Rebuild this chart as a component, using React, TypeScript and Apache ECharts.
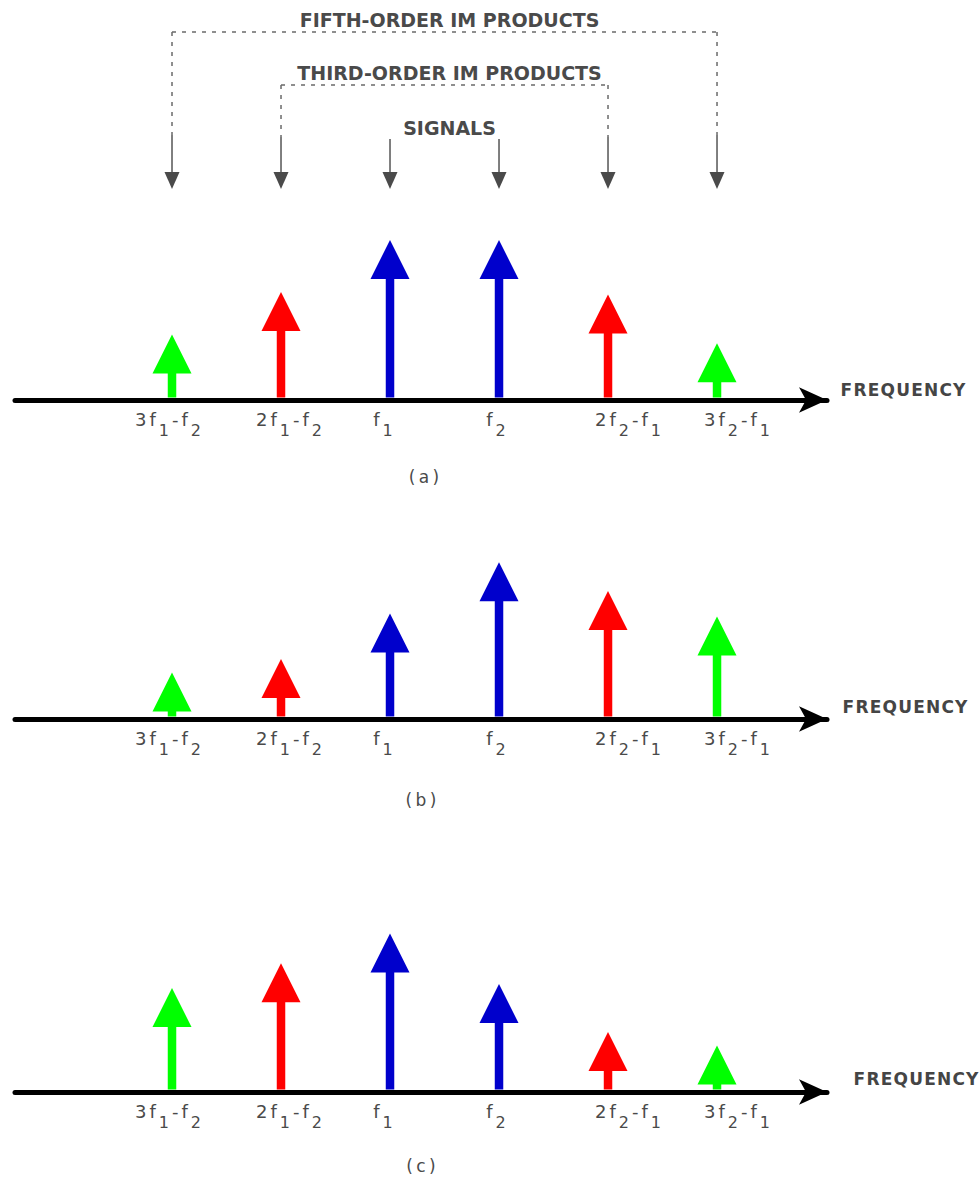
import { useEffect, useRef } from 'react';
import * as echarts from 'echarts';

// Spectral lines along the frequency axis ("_" marks a subscript character)
const PRODUCT_LABELS = ['3f_1-f_2', '2f_1-f_2', 'f_1', 'f_2', '2f_2-f_1', '3f_2-f_1'];
// Intermodulation order of each line: 1 = signal, 3 = third order, 5 = fifth order
const PRODUCT_ORDER = [5, 3, 1, 1, 3, 5];

// Relative amplitudes of the lines in each case
const AMPLITUDE_A = [4.1, 6.75, 10, 10, 6.6, 3.55];
const AMPLITUDE_B = [2.9, 3.75, 6.6, 9.8, 8.0, 6.4];
const AMPLITUDE_C = [6.5, 8.05, 9.9, 6.75, 3.75, 2.9];

const PANEL_CAPTIONS = ['(a)', '(b)', '(c)'];
const AXIS_NAME = 'FREQUENCY';

// Bracket annotations above the first spectrum
const BRACKET_LABELS = ['FIFTH-ORDER IM PRODUCTS', 'THIRD-ORDER IM PRODUCTS', 'SIGNALS'];
const BRACKET_FROM = [0, 1, 2];
const BRACKET_TO = [5, 4, 3];

// ---- styling / layout ----
const ORDER_COLORS: Record<number, string> = { 1: '#0000CC', 3: '#FF0000', 5: '#00FF00' };
const INK = '#4a4a4a';
const FONT = '"DejaVu Sans", sans-serif';

const PANEL_BASELINES = [400, 719, 1092];
const PLOT_HEIGHT = 160;
const GRID_LEFT = 15;
const GRID_RIGHT = 153;
const X_MIN = -1.4404;
const X_MAX = 6.009;

const SHAFT_W = 8.5;
const HEAD_W = 39;
const HEAD_H = 39;

const LABEL_NUDGE = [-4, 8, -7, -3, 20, 20];
const NAME_GAP = [13, 15, 26];
const NAME_LIFT = [10, 12, 13];
const CAPTION_POS = [
  [424, 477],
  [421, 800],
  [421, 1166],
];

const BRACKET_TEXT_Y = [20, 73, 128];
const BRACKET_RULE_Y: (number | null)[] = [32, 85, null];
const BRACKET_SOLID_Y = [135, 137, 139];
const POINTER_TOP = 172;
const POINTER_TIP = 189;

function richLabel(label: string, idx: number): string {
  let out = '';
  for (let i = 0; i < label.length; i++) {
    if (label[i] === '_') {
      out += `{s|${label[i + 1]}}`;
      i++;
    } else {
      out += `{m|${label[i]}}`;
    }
  }
  const n = LABEL_NUDGE[idx];
  if (n > 0) out = `{g${n * 2}| }` + out;
  if (n < 0) out = out + `{g${-n * 2}| }`;
  return out;
}

function labelRich() {
  const rich: Record<string, any> = {
    m: {
      fontSize: 18,
      fontFamily: FONT,
      color: INK,
      lineHeight: 18,
      verticalAlign: 'top',
      padding: [0, 1.5, 0, 1.5],
    },
    s: {
      fontSize: 16,
      fontFamily: FONT,
      color: INK,
      lineHeight: 16,
      verticalAlign: 'top',
      padding: [12, 1.5, 0, 1.5],
    },
  };
  LABEL_NUDGE.forEach((n) => {
    const w = Math.abs(n) * 2;
    if (w > 0) rich[`g${w}`] = { width: w, fontSize: 10, lineHeight: 18, verticalAlign: 'top' };
  });
  return rich;
}

function spacedName(text: string): string {
  return text
    .split('')
    .map((c) => `{c|${c}}`)
    .join('');
}

function renderArrow(_params: any, api: any) {
  const base = api.coord([api.value(0), 0]);
  const tip = api.coord([api.value(0), api.value(1)]);
  const color = ORDER_COLORS[api.value(2)];
  const x = base[0];
  const headBase = tip[1] + HEAD_H;
  return {
    type: 'group',
    children: [
      {
        type: 'rect',
        shape: { x: x - SHAFT_W / 2, y: headBase - 1, width: SHAFT_W, height: base[1] - 2.5 - headBase + 1 },
        style: { fill: color },
      },
      {
        type: 'polygon',
        shape: {
          points: [
            [x, tip[1]],
            [x + HEAD_W / 2, headBase],
            [x - HEAD_W / 2, headBase],
          ],
        },
        style: { fill: color },
      },
    ],
  };
}

function renderBracket(_params: any, api: any) {
  const i = api.value(2);
  const x0 = api.coord([api.value(0), 0])[0];
  const x1 = api.coord([api.value(1), 0])[0];
  const ruleY = BRACKET_RULE_Y[i];
  const solidY = BRACKET_SOLID_Y[i];
  const dotted = { stroke: '#6a6a6a', lineWidth: 1.5, lineDash: [4, 6] };
  const children: any[] = [
    {
      type: 'text',
      x: (x0 + x1) / 2 + 5,
      y: BRACKET_TEXT_Y[i],
      style: {
        text: BRACKET_LABELS[i],
        fill: INK,
        font: `bold 19px ${FONT}`,
        align: 'center',
        verticalAlign: 'middle',
      },
    },
  ];
  if (ruleY != null) {
    children.push({ type: 'line', shape: { x1: x0, y1: ruleY, x2: x1, y2: ruleY }, style: dotted });
    [x0, x1].forEach((x) => {
      children.push({ type: 'line', shape: { x1: x, y1: ruleY, x2: x, y2: solidY }, style: dotted });
    });
  }
  [x0, x1].forEach((x) => {
    children.push({
      type: 'line',
      shape: { x1: x, y1: solidY, x2: x, y2: POINTER_TOP + 2 },
      style: { stroke: '#555', lineWidth: 1.5 },
    });
    children.push({
      type: 'polygon',
      shape: {
        points: [
          [x - 7.5, POINTER_TOP],
          [x + 7.5, POINTER_TOP],
          [x, POINTER_TIP],
        ],
      },
      style: { fill: '#4a4a4a' },
    });
  });
  return { type: 'group', children };
}

export default function App() {
  const ref = useRef<HTMLDivElement>(null);

  useEffect(() => {
    if (!ref.current) return;
    const chart = echarts.init(ref.current, null, { renderer: 'svg' });
    const amplitudes = [AMPLITUDE_A, AMPLITUDE_B, AMPLITUDE_C];

    const grids: any[] = PANEL_BASELINES.map((b) => ({
      left: GRID_LEFT,
      right: GRID_RIGHT,
      top: b - PLOT_HEIGHT,
      height: PLOT_HEIGHT,
    }));
    grids.push({ left: GRID_LEFT, right: GRID_RIGHT, top: 0, height: 200 });

    const xAxes: any[] = PANEL_BASELINES.map((_, p) => ({
      type: 'value',
      gridIndex: p,
      min: X_MIN,
      max: X_MAX,
      name: spacedName(AXIS_NAME),
      nameLocation: 'end',
      nameGap: NAME_GAP[p],
      nameTextStyle: {
        verticalAlign: 'middle',
        padding: [0, 0, NAME_LIFT[p] * 2, 0],
        rich: {
          c: {
            fontSize: 17,
            fontWeight: 'bold',
            fontFamily: FONT,
            color: '#454545',
            padding: [0, 0.6, 0, 0.6],
          },
        },
      },
      axisLine: {
        show: true,
        symbol: ['none', 'arrow'],
        symbolSize: [19, 28],
        lineStyle: { color: '#000', width: 5 },
      },
      axisTick: { show: false },
      splitLine: { show: false },
      axisLabel: {
        show: true,
        customValues: PRODUCT_LABELS.map((_, i) => i),
        margin: 10,
        formatter: (v: number) => richLabel(PRODUCT_LABELS[Math.round(v)], Math.round(v)),
        rich: labelRich(),
      },
    }));
    xAxes.push({ type: 'value', gridIndex: 3, min: X_MIN, max: X_MAX, show: false });

    const yAxes: any[] = PANEL_BASELINES.map((_, p) => ({
      type: 'value',
      gridIndex: p,
      min: 0,
      max: 10,
      show: false,
    }));
    yAxes.push({ type: 'value', gridIndex: 3, min: 0, max: 1, show: false });

    const series: any[] = amplitudes.map((amp, p) => ({
      type: 'custom',
      xAxisIndex: p,
      yAxisIndex: p,
      renderItem: renderArrow,
      encode: { x: 0, y: 1 },
      data: amp.map((v, i) => [i, v, PRODUCT_ORDER[i]]),
      silent: true,
    }));
    series.push({
      type: 'custom',
      xAxisIndex: 3,
      yAxisIndex: 3,
      renderItem: renderBracket,
      encode: { x: [0, 1] },
      data: BRACKET_LABELS.map((_, i) => [BRACKET_FROM[i], BRACKET_TO[i], i]),
      silent: true,
    });

    chart.setOption({
      animation: false,
      backgroundColor: '#ffffff',
      grid: grids,
      xAxis: xAxes,
      yAxis: yAxes,
      series,
      graphic: PANEL_CAPTIONS.map((c, p) => ({
        type: 'text',
        x: CAPTION_POS[p][0],
        y: CAPTION_POS[p][1],
        style: {
          text: c.split('').join('\u2009'),
          fill: INK,
          font: `17px ${FONT}`,
          align: 'center',
          verticalAlign: 'middle',
        },
      })),
    });

    return () => chart.dispose();
  }, []);

  return (
    <div
      ref={ref}
      style={{ position: 'fixed', left: 0, top: 0, width: 980, height: 1183, background: '#fff' }}
    />
  );
}
